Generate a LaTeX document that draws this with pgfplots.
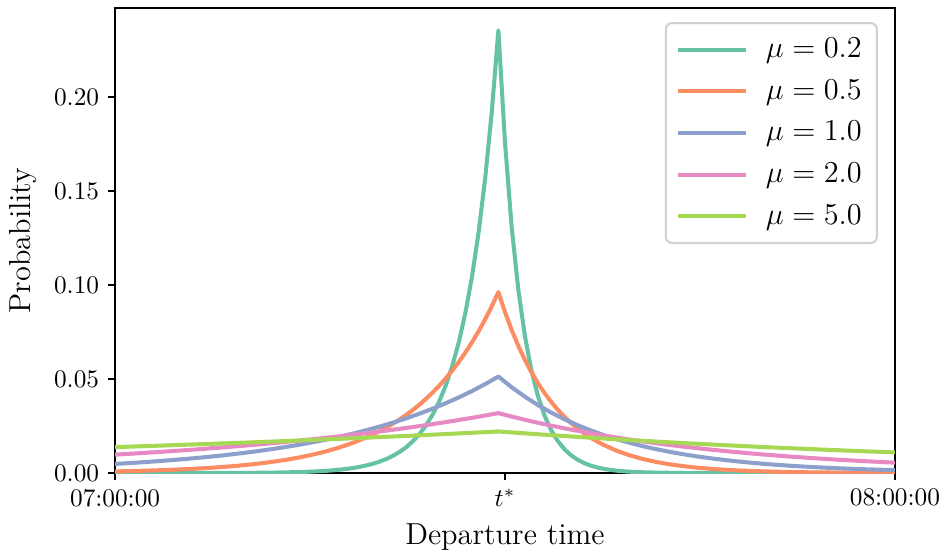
\documentclass[border=0pt]{standalone}
\usepackage{pgfplots}
\pgfplotsset{compat=1.18}
\usepackage{pgfplotstable}
\definecolor{sA}{HTML}{66C2A5}
\definecolor{sB}{HTML}{FC8D62}
\definecolor{sC}{HTML}{8DA0CB}
\definecolor{sD}{HTML}{E78AC3}
\definecolor{sE}{HTML}{A6D854}
% x: sample index (0 = 07:00:00, 59 = 08:00:00)
% mu = 0.2
\pgfplotstableread{
i p
0 0.00000
1 0.00000
2 0.00000
3 0.00000
4 0.00001
5 0.00001
6 0.00002
7 0.00003
8 0.00005
9 0.00007
10 0.00010
11 0.00015
12 0.00023
13 0.00035
14 0.00053
15 0.00079
16 0.00118
16.5 0.00145
17 0.00178
17.5 0.00218
18 0.00267
18.5 0.00328
19 0.00402
19.5 0.00493
20 0.00604
20.5 0.00740
21 0.00907
21.5 0.01111
22 0.01362
22.5 0.01670
23 0.02047
23.5 0.02509
24 0.03075
24.5 0.03769
25 0.04620
25.5 0.05663
26 0.06941
26.5 0.08508
27 0.10428
27.5 0.12782
28 0.15667
28.5 0.19204
29 0.23538
29.5 0.17569
30 0.13113
30.5 0.09788
31 0.07305
31.5 0.05452
32 0.04070
32.5 0.03038
33 0.02267
33.5 0.01692
34 0.01263
34.5 0.00943
35 0.00704
35.5 0.00525
36 0.00392
36.5 0.00293
37 0.00218
37.5 0.00163
38 0.00122
38.5 0.00091
39 0.00068
39.5 0.00051
40 0.00038
41 0.00021
42 0.00012
43 0.00007
44 0.00004
45 0.00002
46 0.00001
47 0.00001
48 0.00000
59 0.00000
}\dataA
% mu = 0.5
\pgfplotstableread{
i p
0 0.000857
1 0.001008
2 0.001186
3 0.001396
4 0.001643
5 0.001933
6 0.002275
7 0.002677
8 0.003151
9 0.003708
10 0.004363
11 0.005135
12 0.006043
13 0.007111
14 0.008368
15 0.009848
16 0.011589
17 0.013638
18 0.016049
19 0.018887
20 0.022226
20.5 0.02411
21 0.026155
21.5 0.02837
22 0.030779
22.5 0.03339
23 0.036221
23.5 0.03929
24 0.042625
24.5 0.04624
25 0.050161
25.5 0.05442
26 0.059029
26.5 0.06404
27 0.069465
27.5 0.07536
28 0.081747
28.5 0.08868
29 0.096200
29.5 0.08558
30 0.076129
30.5 0.06772
31 0.060246
31.5 0.05359
32 0.047676
32.5 0.04241
33 0.037729
33.5 0.03356
34 0.029857
34.5 0.02656
35 0.023628
35.5 0.02102
36 0.018698
36.5 0.01663
37 0.014797
38 0.011710
39 0.009267
40 0.007333
41 0.005803
42 0.004592
43 0.003634
44 0.002876
45 0.002276
46 0.001801
47 0.001425
48 0.001128
49 0.000893
50 0.000706
51 0.000559
52 0.000442
53 0.000350
54 0.000277
55 0.000219
56 0.000173
57 0.000137
58 0.000109
59 0.000086
}\dataB
% c: mu=1.0, d: mu=2.0, e: mu=5.0
\pgfplotstableread{
i c d e
0 0.004841 0.009781 0.013787
1 0.005251 0.010187 0.014013
2 0.005697 0.010610 0.014243
3 0.006180 0.011051 0.014477
4 0.006704 0.011510 0.014715
5 0.007272 0.011988 0.014957
6 0.007889 0.012486 0.015202
7 0.008558 0.013004 0.015452
8 0.009284 0.013545 0.015706
9 0.010071 0.014108 0.015963
10 0.010925 0.014693 0.016225
11 0.011851 0.015304 0.016492
12 0.012856 0.015939 0.016762
13 0.013947 0.016601 0.017037
14 0.015129 0.017291 0.017317
15 0.016412 0.018009 0.017602
16 0.017804 0.018758 0.017890
17 0.019314 0.019537 0.018184
18 0.020952 0.020348 0.018482
19 0.022729 0.021193 0.018786
20 0.024656 0.022074 0.019094
21 0.026747 0.022991 0.019407
22 0.029015 0.023946 0.019726
23 0.031475 0.024941 0.020050
24 0.034144 0.025977 0.020379
25 0.037040 0.027056 0.020713
26 0.040181 0.028180 0.021053
27 0.043588 0.029351 0.021399
28 0.047284 0.030570 0.021750
29 0.051294 0.031840 0.022107
30 0.045630 0.030031 0.021596
31 0.040592 0.028324 0.021096
32 0.036110 0.026715 0.020608
33 0.032123 0.025197 0.020132
34 0.028576 0.023765 0.019666
35 0.025420 0.022415 0.019211
36 0.022613 0.021141 0.018767
37 0.020116 0.019940 0.018333
38 0.017895 0.018807 0.017909
39 0.015919 0.017738 0.017495
40 0.014161 0.016730 0.017090
41 0.012598 0.015779 0.016695
42 0.011207 0.014882 0.016308
43 0.009969 0.014037 0.015932
44 0.008869 0.013240 0.015563
45 0.007889 0.012487 0.015203
46 0.007018 0.011778 0.014851
47 0.006243 0.011109 0.014508
48 0.005554 0.010478 0.014172
49 0.004941 0.009882 0.013845
50 0.004395 0.009321 0.013524
51 0.003910 0.008791 0.013211
52 0.003478 0.008291 0.012906
53 0.003094 0.007820 0.012608
54 0.002752 0.007376 0.012316
55 0.002449 0.006957 0.012031
56 0.002178 0.006562 0.011753
57 0.001938 0.006189 0.011481
58 0.001724 0.005837 0.011215
59 0.001534 0.005505 0.010955
}\data
\begin{document}
\begin{tikzpicture}
\begin{axis}[
  scale only axis,
  width=308.3pt, height=183.8pt,
  at={(0,0)}, anchor=south west,
  xmin=0, xmax=59, ymin=0, ymax=0.2472,
  xtick={0,29.5,59},
  xticklabels={07:00:00,$t^*$,08:00:00},
  ytick={0,0.05,0.1,0.15,0.2},
  scaled y ticks=false,
  yticklabel style={/pgf/number format/.cd, fixed, fixed zerofill, precision=2},
  tick align=outside, tick pos=left,
  major tick length=2.8pt,
  every tick/.style={black, line width=0.7pt},
  axis line style={line width=0.7pt},
  xlabel={Departure time}, ylabel={Probability},
  label style={font=\large},
  legend cell align=left,
  legend style={at={(1,1)}, anchor=north east, xshift=-6.7pt, yshift=-5.5pt,
    draw=black!18, line width=0.8pt, rounded corners=2.5pt,
    fill=white, fill opacity=0.8, text opacity=1,
    font=\large, row sep=3.2pt, inner xsep=4pt, inner ysep=4pt,
    /tikz/every odd column/.append style={column sep=5pt}},
  legend image code/.code={\draw[#1] (0pt,0pt) -- (27pt,0pt);},
]
\addplot[sA, line width=1.6pt, line join=round] table[x=i, y=p]{\dataA};
\addlegendentry{$\mu = 0.2$}
\addplot[sB, line width=1.6pt, line join=round] table[x=i, y=p]{\dataB};
\addlegendentry{$\mu = 0.5$}
\addplot[sC, line width=1.6pt, line join=round] table[x=i, y=c]{\data};
\addlegendentry{$\mu = 1.0$}
\addplot[sD, line width=1.6pt, line join=round] table[x=i, y=d]{\data};
\addlegendentry{$\mu = 2.0$}
\addplot[sE, line width=1.6pt, line join=round] table[x=i, y=e]{\data};
\addlegendentry{$\mu = 5.0$}
\end{axis}
\pgfresetboundingbox
\path[use as bounding box] (-45.5pt,-33.6pt) rectangle (328.1pt,187pt);
\end{tikzpicture}
\end{document}
